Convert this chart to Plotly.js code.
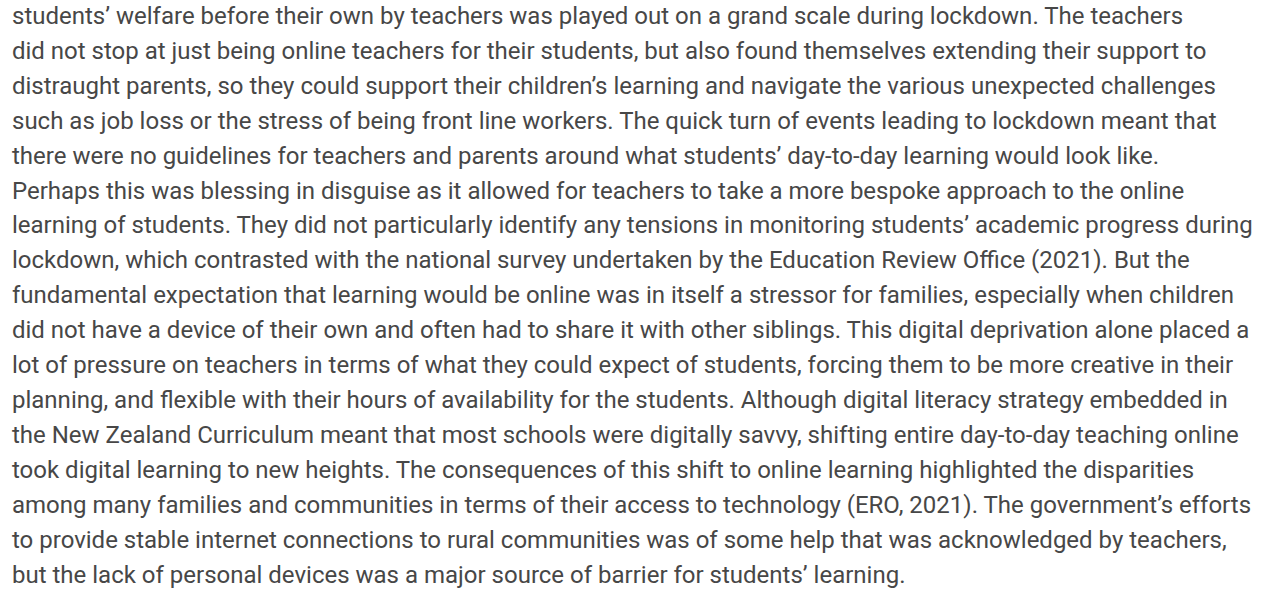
<!DOCTYPE html>
<html>
<head>
<meta charset="utf-8">
<script src="https://cdn.plot.ly/plotly-3.0.1.min.js"></script>
<style>html,body{margin:0;padding:0;background:#fff;}#chart{width:1264px;height:592px;}</style>
</head>
<body>
<div id="chart"></div>
<script>
const lines = [
  "students’ welfare before their own by teachers was played out on a grand scale during lockdown. The teachers",
  "did not stop at just being online teachers for their students, but also found themselves extending their support to",
  "distraught parents, so they could support their children’s learning and navigate the various unexpected challenges",
  "such as job loss or the stress of being front line workers. The quick turn of events leading to lockdown meant that",
  "there were no guidelines for teachers and parents around what students’ day-to-day learning would look like.",
  "Perhaps this was blessing in disguise as it allowed for teachers to take a more bespoke approach to the online",
  "learning of students. They did not particularly identify any tensions in monitoring students’ academic progress during",
  "lockdown, which contrasted with the national survey undertaken by the Education Review Office (2021). But the",
  "fundamental expectation that learning would be online was in itself a stressor for families, especially when children",
  "did not have a device of their own and often had to share it with other siblings. This digital deprivation alone placed a",
  "lot of pressure on teachers in terms of what they could expect of students, forcing them to be more creative in their",
  "planning, and flexible with their hours of availability for the students. Although digital literacy strategy embedded in",
  "the New Zealand Curriculum meant that most schools were digitally savvy, shifting entire day-to-day teaching online",
  "took digital learning to new heights. The consequences of this shift to online learning highlighted the disparities",
  "among many families and communities in terms of their access to technology (ERO, 2021). The government’s efforts",
  "to provide stable internet connections to rural communities was of some help that was acknowledged by teachers,",
  "but the lack of personal devices was a major source of barrier for students’ learning."
];
const lineIndex = lines.map((_, i) => i);

const annotations = lines.map((t, i) => ({
  text: t,
  x: 10,
  y: lineIndex[i],
  xref: 'x', yref: 'y',
  xanchor: 'left', yanchor: 'middle',
  showarrow: false,
  align: 'left',
  font: {family: 'Roboto, sans-serif', size: 24, color: '#474747'}
}));

const layout = {
  width: 1264, height: 592,
  margin: {l: 0, r: 0, t: 0, b: 0},
  paper_bgcolor: '#ffffff', plot_bgcolor: '#ffffff',
  showlegend: false,
  xaxis: {range: [0, 1264], visible: false, fixedrange: true},
  yaxis: {range: [16.5, -0.46], visible: false, fixedrange: true},
  annotations: annotations
};

Plotly.newPlot('chart', [{x: [], y: [], type: 'scatter', hoverinfo: 'skip'}], layout, {displayModeBar: false, staticPlot: true});
</script>
</body>
</html>
